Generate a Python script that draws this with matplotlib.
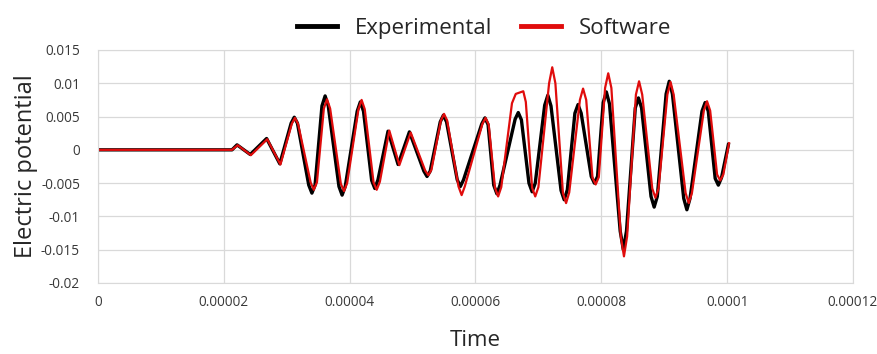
import matplotlib
matplotlib.use('Agg')
import matplotlib.pyplot as plt
from matplotlib.ticker import FuncFormatter

# times in microseconds, potentials in volts
# (peaks, troughs and a point either side of each tip)
exp_t = [0, 21.3, 22.1, 24.2, 26.8, 28.9,
         30.7, 31.2, 31.7, 33.5, 34.0, 34.5, 35.6, 36.1, 36.6, 38.3, 38.8, 39.3,
         41.2, 41.7, 42.2, 43.5, 44.0, 44.5, 46.1, 47.7, 49.5, 51.8, 52.3, 52.8,
         54.4, 54.9, 55.4, 57.1, 57.6, 58.1, 61.0, 61.5, 62.0, 62.9, 63.4, 63.9,
         66.3, 66.8, 67.3, 68.5, 69.0, 69.5, 71.0, 71.5, 72.0, 73.6, 74.1, 74.6,
         75.8, 76.3, 76.8, 78.4, 78.9, 79.4, 80.3, 80.8, 81.3, 83.0, 83.5, 84.0,
         85.4, 85.9, 86.4, 87.9, 88.4, 88.9, 90.3, 90.8, 91.3, 93.1, 93.6, 94.1,
         96.0, 96.5, 97.0, 98.1, 98.6, 99.1, 100.2]
exp_v = [0, 0, 0.00075, -0.0007, 0.0017, -0.0021,
         0.0040, 0.0049, 0.0040, -0.0053, -0.0065, -0.0053, 0.0066, 0.0081, 0.0066,
         -0.0055, -0.0068, -0.0055, 0.0058, 0.0072, 0.0058, -0.0046, -0.0058, -0.0045,
         0.0028, -0.0022, 0.0027, -0.0032, -0.0040, -0.0032, 0.0042, 0.0052, 0.0042,
         -0.0045, -0.0055, -0.0045, 0.0039, 0.0048, 0.0038, -0.0053, -0.0066, -0.0053,
         0.0046, 0.0056, 0.0045, -0.0050, -0.0063, -0.0050, 0.0067, 0.0082, 0.0066,
         -0.0061, -0.0075, -0.0060, 0.0055, 0.0068, 0.0055, -0.0040, -0.0050, -0.0040,
         0.0071, 0.0087, 0.0069, -0.0122, -0.0150, -0.0122, 0.0063, 0.0078, 0.0063,
         -0.0070, -0.0086, -0.0070, 0.0084, 0.0103, 0.0084, -0.0073, -0.0090, -0.0073,
         0.0058, 0.0071, 0.0058, -0.0043, -0.0053, -0.0042, 0.0008]

sw_t = [0, 21.3, 22.2, 24.3, 26.9, 29.0,
        30.8, 31.3, 31.8, 33.8, 34.3, 34.8, 35.9, 36.4, 36.9, 38.6, 39.1, 39.6,
        41.4, 41.9, 42.4, 43.8, 44.3, 44.8, 46.3, 47.9, 49.7, 52.0, 52.5, 53.0,
        54.5, 55.0, 55.5, 57.3, 57.8, 58.3, 61.1, 61.6, 62.1, 63.1, 63.6, 64.1,
        65.8, 66.4, 67.6, 68.0, 69.0, 69.5, 70.0, 71.7, 72.2, 72.7, 73.9, 74.4, 74.9,
        76.6, 77.1, 77.6, 78.6, 79.1, 79.6, 80.6, 81.1, 81.6, 83.1, 83.6, 84.1,
        85.5, 86.0, 86.5, 88.1, 88.6, 89.1, 90.5, 91.0, 91.5, 93.4, 93.9, 94.4,
        96.3, 96.8, 97.3, 98.4, 98.9, 99.4, 100.3]
sw_v = [0, 0, 0.0007, -0.0008, 0.0016, -0.0022,
        0.0039, 0.0048, 0.0039, -0.0049, -0.0060, -0.0049, 0.0062, 0.0076, 0.0062,
        -0.0051, -0.0062, -0.0050, 0.0061, 0.0075, 0.0061, -0.0049, -0.0060, -0.0048,
        0.0029, -0.0023, 0.0026, -0.0031, -0.0038, -0.0030, 0.0044, 0.0054, 0.0044,
        -0.0055, -0.0068, -0.0055, 0.0039, 0.0048, 0.0038, -0.0057, -0.0070, -0.0056,
        0.0070, 0.0084, 0.0088, 0.0072, -0.0057, -0.0070, -0.0056, 0.0100, 0.0124, 0.0100,
        -0.0065, -0.0080, -0.0064, 0.0075, 0.0092, 0.0075, -0.0042, -0.0052, -0.0041,
        0.0093, 0.0115, 0.0093, -0.0130, -0.0160, -0.0130, 0.0083, 0.0103, 0.0083,
        -0.0058, -0.0072, -0.0058, 0.0083, 0.0102, 0.0083, -0.0065, -0.0080, -0.0065,
        0.0059, 0.0073, 0.0059, -0.0037, -0.0046, -0.0037, 0.0010]

x_ticks = [0, 0.00002, 0.00004, 0.00006, 0.00008, 0.0001, 0.00012]
y_ticks = [-0.02, -0.015, -0.01, -0.005, 0, 0.005, 0.01, 0.015]

plt.rcParams['font.family'] = ['Open Sans', 'DejaVu Sans']

fig = plt.figure(figsize=(8.78, 3.54), dpi=100)
ax = fig.add_axes([0.1116, 0.2006, 0.8599, 0.6582])

ax.plot([t * 1e-6 for t in exp_t], exp_v, color='black', lw=2.4, label='Experimental',
        solid_joinstyle='round')
ax.plot([t * 1e-6 for t in sw_t], sw_v, color='#e00c0c', lw=1.6, label='Software',
        solid_joinstyle='round')

ax.set_xlim(0, 0.00012)
ax.set_ylim(-0.02, 0.015)
ax.set_xticks(x_ticks)
ax.set_yticks(y_ticks)


def fmt(v, pos):
    if v == 0:
        return '0'
    return f'{v:.5f}'.rstrip('0').rstrip('.')


ax.xaxis.set_major_formatter(FuncFormatter(fmt))
ax.yaxis.set_major_formatter(FuncFormatter(fmt))
ax.tick_params(length=0, labelsize=9.8, labelcolor='#383838')
ax.tick_params(axis='y', pad=13)
ax.tick_params(axis='x', pad=9)
ax.grid(True, color='#d9d9d9', lw=0.9)
ax.set_axisbelow(True)
for s in ax.spines.values():
    s.set_color('#d9d9d9')

ax.set_xlabel('Time', fontsize=16, color='#262626', labelpad=14)
ax.set_ylabel('Electric potential', fontsize=17, color='#262626', labelpad=2)

leg = ax.legend(loc='lower center', bbox_to_anchor=(0.511, 1.0), ncol=2, frameon=False,
                fontsize=16, handlelength=1.8, handletextpad=0.8, columnspacing=1.3,
                borderaxespad=0.1)
for h in leg.get_lines():
    h.set_linewidth(3.5)
for t in leg.get_texts():
    t.set_color('#262626')

fig.savefig('out.png', dpi=100)
